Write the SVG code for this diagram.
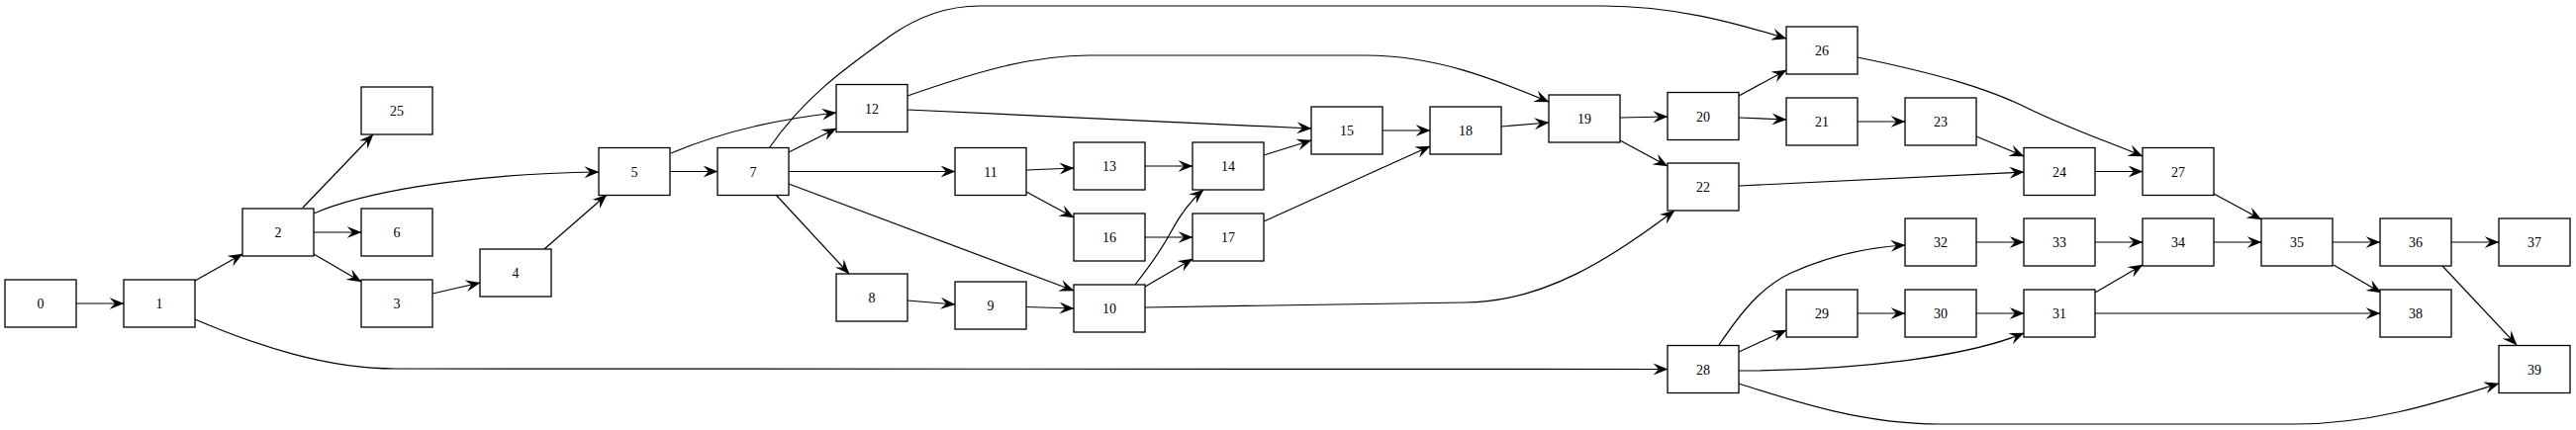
<svg xmlns="http://www.w3.org/2000/svg" width="2603" height="435" viewBox="0 0 2603 435">
<style>
.n rect{fill:#fff;stroke:#000;stroke-width:1.3}
.n text{font-family:"Liberation Serif","Times New Roman",serif;font-size:14px;text-anchor:middle;fill:#000}
.e path{fill:none;stroke:#000;stroke-width:1.2;marker-end:url(#v)}
</style>
<defs>
<marker id="v" viewBox="0 0 15 12" markerWidth="15" markerHeight="12" refX="14.5" refY="6" orient="auto" markerUnits="userSpaceOnUse">
<path d="M0,0 L15,6 L0,12 L5.5,6 Z" fill="#000"/>
</marker>
</defs>
<rect width="2603" height="435" fill="#fff"/>
<g id="edges" class="e">
<path d="M77,307 L125,307"/>
<path d="M197,284 L245,257"/>
<path d="M197,323 C260,350 330,373 400,373 L1685,373.5"/>
<path d="M306,210 L377,136"/>
<path d="M317,216 C360,197 460,176 605,174"/>
<path d="M317,235 L365,235"/>
<path d="M317,257 L365,285"/>
<path d="M437,297 L485,286"/>
<path d="M550,252 L613,197"/>
<path d="M678,155 C730,133 790,120 845,114"/>
<path d="M677,173.5 L725,173.5"/>
<path d="M777,150 C815,95 860,65 900,36 C930,15 960,6 990,6 L1620,6 C1690,6 1750,22 1805,39"/>
<path d="M797,154 L845,130"/>
<path d="M797,173.5 L965,173.5"/>
<path d="M797,186 L1085,294"/>
<path d="M784,197 L858,277"/>
<path d="M917,97 C980,75 1040,56 1100,56 L1380,56 C1450,56 1510,80 1565,103"/>
<path d="M917,111 L1325,130"/>
<path d="M917,304 L965,308"/>
<path d="M1037,310.5 L1085,312"/>
<path d="M1037,172 L1085,170"/>
<path d="M1037,194 L1085,220"/>
<path d="M1157,168 L1205,168"/>
<path d="M1157,240 L1205,240"/>
<path d="M1147,288 C1165,265 1175,250 1183,235 C1192,218 1203,203 1216,192"/>
<path d="M1157,290 L1205,262"/>
<path d="M1157,311 L1480,306 C1560,306 1630,260 1692,213"/>
<path d="M1277,157 L1325,142"/>
<path d="M1277,224 L1445,148"/>
<path d="M1333,132 L1445,132"/>
<path d="M1517,128 L1565,124"/>
<path d="M1637,119 L1685,118"/>
<path d="M1637,142 L1685,168"/>
<path d="M1757,97 L1805,71"/>
<path d="M1757,119 L1805,121"/>
<path d="M1877,123 L1925,123"/>
<path d="M1877,58 C1960,75 2010,90 2050,110 C2100,134 2135,145 2165,158"/>
<path d="M1997,138 L2045,158"/>
<path d="M1757,188 L2045,174"/>
<path d="M2117,173.5 L2165,173.5"/>
<path d="M2237,196 L2285,222"/>
<path d="M1737,349 C1760,315 1780,290 1810,276 C1850,258 1890,250 1925,248"/>
<path d="M1757,356 L1805,334"/>
<path d="M1757,375 C1880,375 1990,360 2045,337"/>
<path d="M1757,388 C1810,405 1880,429 1960,429 L2320,429 C2400,429 2470,405 2525,388"/>
<path d="M1877,317 L1925,317"/>
<path d="M1997,317 L2045,317"/>
<path d="M2117,296 L2165,268"/>
<path d="M2117,317 L2405,317"/>
<path d="M1997,245 L2045,245"/>
<path d="M2117,245 L2165,245"/>
<path d="M2237,245 L2285,245"/>
<path d="M2357,245 L2405,245"/>
<path d="M2358,268 L2406,296"/>
<path d="M2477,245 L2525,245"/>
<path d="M2468,269 L2543,349"/>
</g>
<g id="node0" class="n"><rect x="5" y="283" width="72" height="48"/><text x="41" y="312">0</text></g>
<g id="node1" class="n"><rect x="125" y="283" width="72" height="48"/><text x="161" y="312">1</text></g>
<g id="node2" class="n"><rect x="245" y="211" width="72" height="48"/><text x="281" y="240">2</text></g>
<g id="node25" class="n"><rect x="365" y="88" width="72" height="48"/><text x="401" y="117">25</text></g>
<g id="node6" class="n"><rect x="365" y="211" width="72" height="48"/><text x="401" y="240">6</text></g>
<g id="node3" class="n"><rect x="365" y="283" width="72" height="48"/><text x="401" y="312">3</text></g>
<g id="node4" class="n"><rect x="485" y="252" width="72" height="48"/><text x="521" y="281">4</text></g>
<g id="node5" class="n"><rect x="605" y="149.5" width="72" height="48"/><text x="641" y="178.5">5</text></g>
<g id="node7" class="n"><rect x="725" y="149.5" width="72" height="48"/><text x="761" y="178.5">7</text></g>
<g id="node12" class="n"><rect x="845" y="85.5" width="72" height="48"/><text x="881" y="114.5">12</text></g>
<g id="node8" class="n"><rect x="845" y="277" width="72" height="48"/><text x="881" y="306">8</text></g>
<g id="node11" class="n"><rect x="965" y="149.5" width="72" height="48"/><text x="1001" y="178.5">11</text></g>
<g id="node9" class="n"><rect x="965" y="285" width="72" height="48"/><text x="1001" y="314">9</text></g>
<g id="node13" class="n"><rect x="1085" y="144" width="72" height="48"/><text x="1121" y="173">13</text></g>
<g id="node16" class="n"><rect x="1085" y="216" width="72" height="48"/><text x="1121" y="245">16</text></g>
<g id="node10" class="n"><rect x="1085" y="288" width="72" height="48"/><text x="1121" y="317">10</text></g>
<g id="node14" class="n"><rect x="1205" y="144" width="72" height="48"/><text x="1241" y="173">14</text></g>
<g id="node17" class="n"><rect x="1205" y="216" width="72" height="48"/><text x="1241" y="245">17</text></g>
<g id="node15" class="n"><rect x="1325" y="108" width="72" height="48"/><text x="1361" y="137">15</text></g>
<g id="node18" class="n"><rect x="1445" y="108" width="72" height="48"/><text x="1481" y="137">18</text></g>
<g id="node19" class="n"><rect x="1565" y="96" width="72" height="48"/><text x="1601" y="125">19</text></g>
<g id="node20" class="n"><rect x="1685" y="93.5" width="72" height="48"/><text x="1721" y="122.5">20</text></g>
<g id="node22" class="n"><rect x="1685" y="165" width="72" height="48"/><text x="1721" y="194">22</text></g>
<g id="node28" class="n"><rect x="1685" y="349.5" width="72" height="48"/><text x="1721" y="378.5">28</text></g>
<g id="node26" class="n"><rect x="1805" y="27" width="72" height="48"/><text x="1841" y="56">26</text></g>
<g id="node21" class="n"><rect x="1805" y="99" width="72" height="48"/><text x="1841" y="128">21</text></g>
<g id="node29" class="n"><rect x="1805" y="293" width="72" height="48"/><text x="1841" y="322">29</text></g>
<g id="node23" class="n"><rect x="1925" y="99" width="72" height="48"/><text x="1961" y="128">23</text></g>
<g id="node32" class="n"><rect x="1925" y="221" width="72" height="48"/><text x="1961" y="250">32</text></g>
<g id="node30" class="n"><rect x="1925" y="293" width="72" height="48"/><text x="1961" y="322">30</text></g>
<g id="node24" class="n"><rect x="2045" y="149.5" width="72" height="48"/><text x="2081" y="178.5">24</text></g>
<g id="node33" class="n"><rect x="2045" y="221" width="72" height="48"/><text x="2081" y="250">33</text></g>
<g id="node31" class="n"><rect x="2045" y="293" width="72" height="48"/><text x="2081" y="322">31</text></g>
<g id="node27" class="n"><rect x="2165" y="149.5" width="72" height="48"/><text x="2201" y="178.5">27</text></g>
<g id="node34" class="n"><rect x="2165" y="221" width="72" height="48"/><text x="2201" y="250">34</text></g>
<g id="node35" class="n"><rect x="2285" y="221" width="72" height="48"/><text x="2321" y="250">35</text></g>
<g id="node36" class="n"><rect x="2405" y="221" width="72" height="48"/><text x="2441" y="250">36</text></g>
<g id="node38" class="n"><rect x="2405" y="293" width="72" height="48"/><text x="2441" y="322">38</text></g>
<g id="node37" class="n"><rect x="2525" y="221" width="72" height="48"/><text x="2561" y="250">37</text></g>
<g id="node39" class="n"><rect x="2525" y="349.5" width="72" height="48"/><text x="2561" y="378.5">39</text></g>
</svg>
